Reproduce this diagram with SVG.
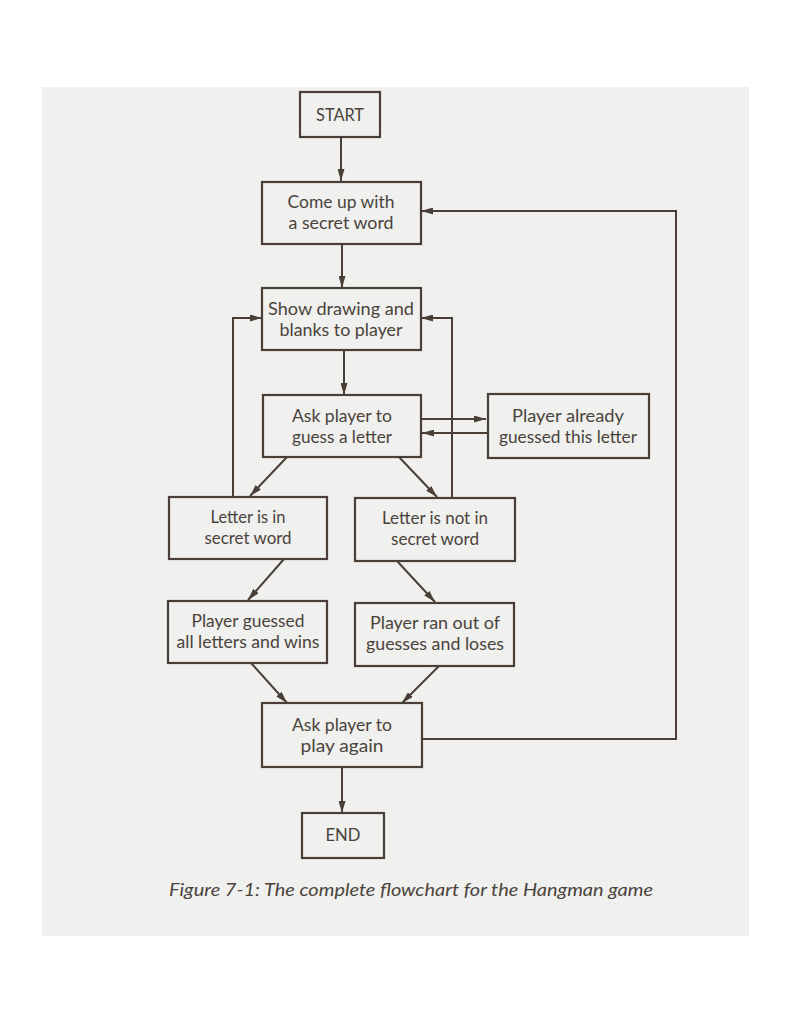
<svg xmlns="http://www.w3.org/2000/svg" width="791" height="1024" viewBox="0 0 791 1024">
<defs>
<style>
.box{fill:none;stroke:#4a3f36;stroke-width:2.2}
.con{fill:none;stroke:#4a3f36;stroke-width:2}
text{font-family:Lato,"Noto Sans","Liberation Sans",sans-serif;font-size:17.5px;fill:#4a433c;text-anchor:middle}
.cap{font-style:italic;font-size:18px;text-anchor:start}
</style>
<marker id="ah" viewBox="0 0 12 7" refX="12" refY="3.5" markerWidth="12" markerHeight="7" markerUnits="userSpaceOnUse" orient="auto">
<path d="M0 0 L12 3.5 L0 7 Z" fill="#4a3f36"/>
</marker>
</defs>
<rect x="0" y="0" width="791" height="1024" fill="#ffffff"/>
<rect x="42" y="87" width="707" height="849" fill="#f0f0ee"/>

<g id="connectors">
<path class="con" marker-end="url(#ah)" d="M341 137 L341 181"/>
<path class="con" marker-end="url(#ah)" d="M342 244 L342 288"/>
<path class="con" marker-end="url(#ah)" d="M344 350 L344 395"/>
<path class="con" marker-end="url(#ah)" d="M421 419 L486 419"/>
<path class="con" marker-end="url(#ah)" d="M488 433 L422 433"/>
<path class="con" marker-end="url(#ah)" d="M287 457 L250 496"/>
<path class="con" marker-end="url(#ah)" d="M399 457 L437 497"/>
<path class="con" marker-end="url(#ah)" d="M233 497 L233 318 L262 318"/>
<path class="con" marker-end="url(#ah)" d="M452 498 L452 318 L421 318"/>
<path class="con" marker-end="url(#ah)" d="M284 559 L248 600"/>
<path class="con" marker-end="url(#ah)" d="M397 561 L435 602"/>
<path class="con" marker-end="url(#ah)" d="M251 663 L287 703"/>
<path class="con" marker-end="url(#ah)" d="M439 666 L402 703"/>
<path class="con" marker-end="url(#ah)" d="M422 739 L676 739 L676 211 L421 211"/>
<path class="con" marker-end="url(#ah)" d="M342 767 L342 813"/>
</g>

<g id="start">
<rect class="box" x="300" y="92" width="80" height="45"/>
<text x="340" y="121" textLength="48" lengthAdjust="spacingAndGlyphs">START</text>
</g>
<g id="come-up">
<rect class="box" x="262" y="182" width="159" height="62"/>
<text x="341" y="208" textLength="107" lengthAdjust="spacingAndGlyphs">Come up with</text>
<text x="341" y="229" textLength="105" lengthAdjust="spacingAndGlyphs">a secret word</text>
</g>
<g id="show-drawing">
<rect class="box" x="262" y="288" width="159" height="62"/>
<text x="341" y="315" textLength="146" lengthAdjust="spacingAndGlyphs">Show drawing and</text>
<text x="341" y="336" textLength="123" lengthAdjust="spacingAndGlyphs">blanks to player</text>
</g>
<g id="ask-guess">
<rect class="box" x="263" y="395" width="158" height="62"/>
<text x="342" y="422" textLength="100" lengthAdjust="spacingAndGlyphs">Ask player to</text>
<text x="342" y="443" textLength="100" lengthAdjust="spacingAndGlyphs">guess a letter</text>
</g>
<g id="already-guessed">
<rect class="box" x="488" y="394" width="161" height="64"/>
<text x="568" y="422" textLength="112" lengthAdjust="spacingAndGlyphs">Player already</text>
<text x="568" y="443" textLength="138" lengthAdjust="spacingAndGlyphs">guessed this letter</text>
</g>
<g id="letter-in">
<rect class="box" x="169" y="497" width="158" height="62"/>
<text x="248" y="523" textLength="75" lengthAdjust="spacingAndGlyphs">Letter is in</text>
<text x="248" y="544" textLength="87" lengthAdjust="spacingAndGlyphs">secret word</text>
</g>
<g id="letter-not-in">
<rect class="box" x="355" y="498" width="160" height="63"/>
<text x="435" y="524" textLength="106" lengthAdjust="spacingAndGlyphs">Letter is not in</text>
<text x="435" y="545" textLength="88" lengthAdjust="spacingAndGlyphs">secret word</text>
</g>
<g id="wins">
<rect class="box" x="168" y="601" width="159" height="62"/>
<text x="248" y="627" textLength="113" lengthAdjust="spacingAndGlyphs">Player guessed</text>
<text x="248" y="648" textLength="143" lengthAdjust="spacingAndGlyphs">all letters and wins</text>
</g>
<g id="loses">
<rect class="box" x="355" y="603" width="159" height="63"/>
<text x="435" y="629" textLength="130" lengthAdjust="spacingAndGlyphs">Player ran out of</text>
<text x="435" y="650" textLength="138" lengthAdjust="spacingAndGlyphs">guesses and loses</text>
</g>
<g id="play-again">
<rect class="box" x="262" y="703" width="160" height="64"/>
<text x="342" y="731" textLength="100" lengthAdjust="spacingAndGlyphs">Ask player to</text>
<text x="342" y="752" textLength="83" lengthAdjust="spacingAndGlyphs">play again</text>
</g>
<g id="end">
<rect class="box" x="302" y="813" width="82" height="45"/>
<text x="343" y="841" textLength="35" lengthAdjust="spacingAndGlyphs">END</text>
</g>
<g id="caption">
<text class="cap" x="169" y="896" textLength="484" lengthAdjust="spacingAndGlyphs">Figure 7-1: The complete flowchart for the Hangman game</text>
</g>
</svg>
